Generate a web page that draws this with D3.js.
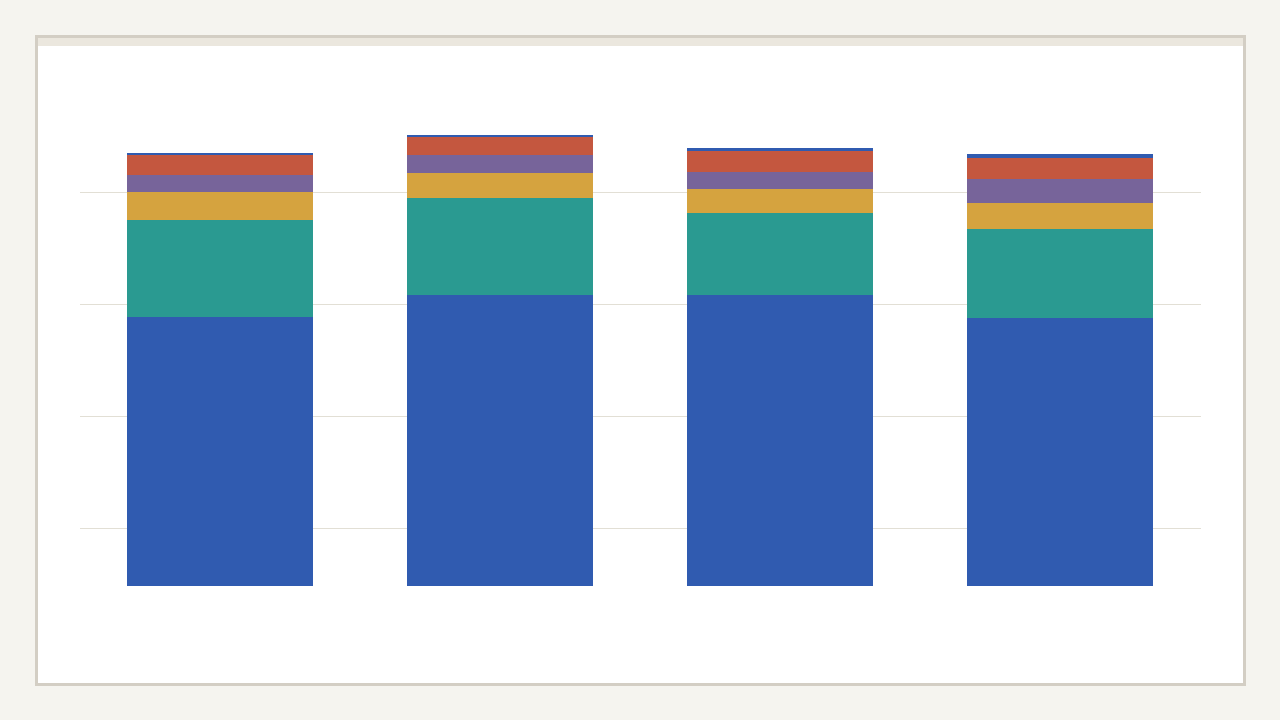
<!DOCTYPE html>
<html>
<head>
<meta charset="utf-8">
<script src="https://cdn.jsdelivr.net/npm/d3@7"></script>
<style>
  html, body { margin: 0; padding: 0; background: #f5f4ef; }
  body { width: 1280px; height: 720px; overflow: hidden; font-family: "Noto Sans", sans-serif; }
</style>
</head>
<body>
<svg id="chart" width="1280" height="720"></svg>
<script>
// ---- data ----
const categories = ["Q1", "Q2", "Q3", "Q4"];
const seriesNames = ["Series 1", "Series 2", "Series 3", "Series 4", "Series 5", "Series 6"];
const series1 = [53.8, 58.2, 58.2, 53.6];
const series2 = [19.4, 19.4, 16.4, 17.8];
const series3 = [5.6, 5.0, 4.8, 5.2];
const series4 = [3.4, 3.6, 3.5, 4.8];
const series5 = [4.0, 3.6, 4.1, 4.2];
const series6 = [0.4, 0.4, 0.6, 0.8];
const gridTicks = [1, 2, 3, 4];

const colors = ["#305bb0", "#2a9a91", "#d5a33f", "#77649a", "#c4573f", "#305bb0"];

// ---- layout ----
const svg = d3.select("#chart");
svg.append("rect").attr("x", 0).attr("y", 0).attr("width", 1280).attr("height", 720).attr("fill", "#f5f4ef");
// card
svg.append("rect").attr("x", 36.5).attr("y", 36.5).attr("width", 1208).attr("height", 648)
  .attr("fill", "#ffffff").attr("stroke", "#d3cec4").attr("stroke-width", 3);
svg.append("rect").attr("x", 38).attr("y", 38).attr("width", 1205).attr("height", 8).attr("fill", "#ebe7de");

const table = categories.map((c, i) => ({
  cat: c,
  [seriesNames[0]]: series1[i],
  [seriesNames[1]]: series2[i],
  [seriesNames[2]]: series3[i],
  [seriesNames[3]]: series4[i],
  [seriesNames[4]]: series5[i],
  [seriesNames[5]]: series6[i]
}));

const x = d3.scaleBand().domain(categories).range([80, 1200]).paddingInner(0.336).paddingOuter(0.168);
const y = d3.scaleLinear().domain([0, 100]).range([586, 86]);
const gridY = d3.scaleLinear().domain([0, 5]).range([640, 80]);

// gridlines
svg.append("g").selectAll("line").data(gridTicks).join("line")
  .attr("x1", 80).attr("x2", 1201)
  .attr("y1", d => Math.round(gridY(d)) + 0.5).attr("y2", d => Math.round(gridY(d)) + 0.5)
  .attr("stroke", "#e2dfd5").attr("stroke-width", 1);

const stack = d3.stack().keys(seriesNames)(table);
const color = d3.scaleOrdinal().domain(seriesNames).range(colors);

svg.append("g").selectAll("g").data(stack).join("g")
  .attr("fill", d => color(d.key))
  .selectAll("rect").data(d => d).join("rect")
  .attr("x", d => x(d.data.cat))
  .attr("width", x.bandwidth())
  .attr("y", d => y(d[1]))
  .attr("height", d => y(d[0]) - y(d[1]))
  .attr("shape-rendering", "crispEdges");
</script>
</body>
</html>
